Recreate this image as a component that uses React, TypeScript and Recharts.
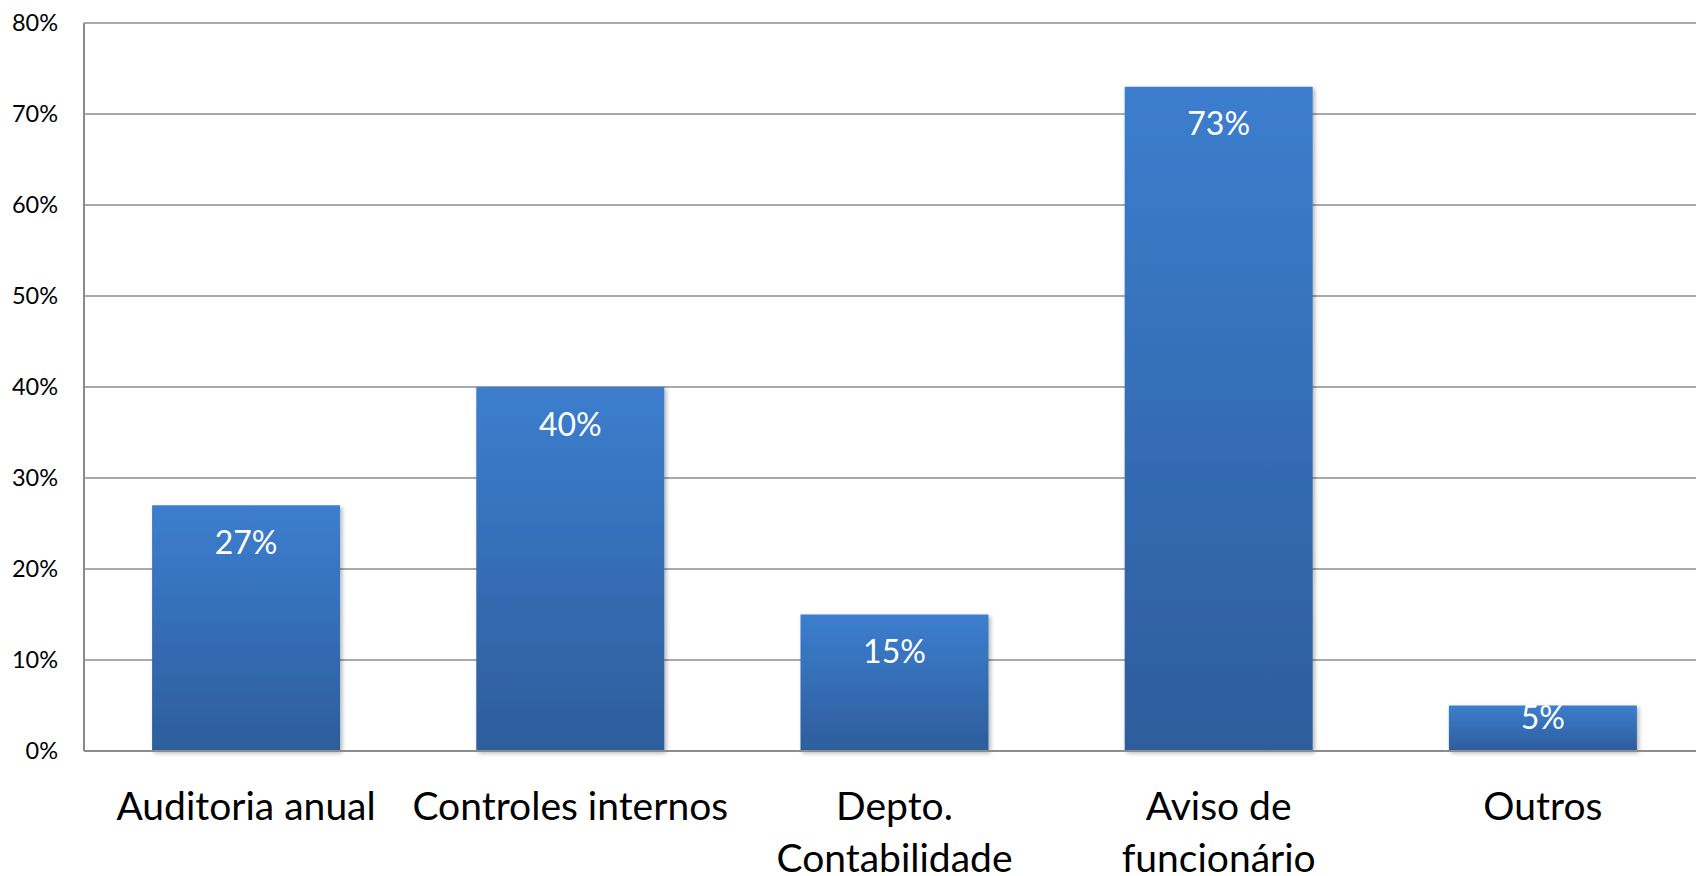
import { Bar, BarChart, CartesianGrid, LabelList, XAxis, YAxis } from "recharts";

const categories = [
  "Auditoria anual",
  "Controles internos",
  "Depto.\nContabilidade",
  "Aviso de\nfuncionário",
  "Outros",
];
const shares = [27, 40, 15, 73, 5];
const yTicks = [0, 10, 20, 30, 40, 50, 60, 70, 80];

const data = categories.map((name, i) => ({ name, value: shares[i] }));

const FONT = "Lato, 'Open Sans', sans-serif";
const GRID = "#8c8c8c";

function CategoryTick(props: any) {
  const { x, y, payload } = props;
  const lines = String(payload.value).split("\n");
  return (
    <g>
      {lines.map((line, i) => (
        <text
          key={i}
          x={x}
          y={y + 69 + i * 52}
          textAnchor="middle"
          fontFamily={FONT}
          fontSize={39}
          fill="#000"
        >
          {line}
        </text>
      ))}
    </g>
  );
}

function ValueLabel(props: any) {
  const { x, y, width, height, value } = props;
  // short bars pull the label up towards the top edge
  const cy = y + Math.min(37, height * 0.27);
  return (
    <text
      x={x + width / 2}
      y={cy}
      dy="0.36em"
      textAnchor="middle"
      fontFamily={FONT}
      fontSize={32}
      fill="#fff"
    >
      {value}%
    </text>
  );
}

export default function App() {
  return (
    <div
      style={{
        position: "fixed",
        left: 0,
        top: 0,
        width: 1696,
        height: 876,
        overflow: "hidden",
        background: "#fff",
      }}
    >
      <BarChart
        width={1720}
        height={876}
        data={data}
        barCategoryGap="21%"
        margin={{ top: 23, right: 15, left: 0, bottom: 0 }}
      >
        <defs>
          <linearGradient id="barFill" x1="0" y1="0" x2="0" y2="1">
            <stop offset="0%" stopColor="#3c7ece" />
            <stop offset="100%" stopColor="#2d5d9c" />
          </linearGradient>
          <filter id="barShadow" x="-10%" y="-10%" width="130%" height="130%">
            <feDropShadow dx="2" dy="2" stdDeviation="2" floodColor="#000" floodOpacity="0.3" />
          </filter>
        </defs>
        <CartesianGrid vertical={false} stroke={GRID} strokeWidth={1.5} />
        <XAxis
          dataKey="name"
          height={125}
          axisLine={{ stroke: GRID, strokeWidth: 2 }}
          tickLine={false}
          tickSize={0}
          tickMargin={0}
          interval={0}
          tick={<CategoryTick />}
        />
        <YAxis
          width={84}
          domain={[0, 80]}
          ticks={yTicks}
          axisLine={{ stroke: GRID, strokeWidth: 2 }}
          tickLine={false}
          tickSize={0}
          tickMargin={26}
          tickFormatter={(v: number) => `${v}%`}
          tick={{ fill: "#000", fontSize: 23.5, fontFamily: FONT }}
        />
        <Bar
          dataKey="value"
          fill="url(#barFill)"
          filter="url(#barShadow)"
          isAnimationActive={false}
        >
          <LabelList dataKey="value" content={<ValueLabel />} />
        </Bar>
      </BarChart>
    </div>
  );
}
